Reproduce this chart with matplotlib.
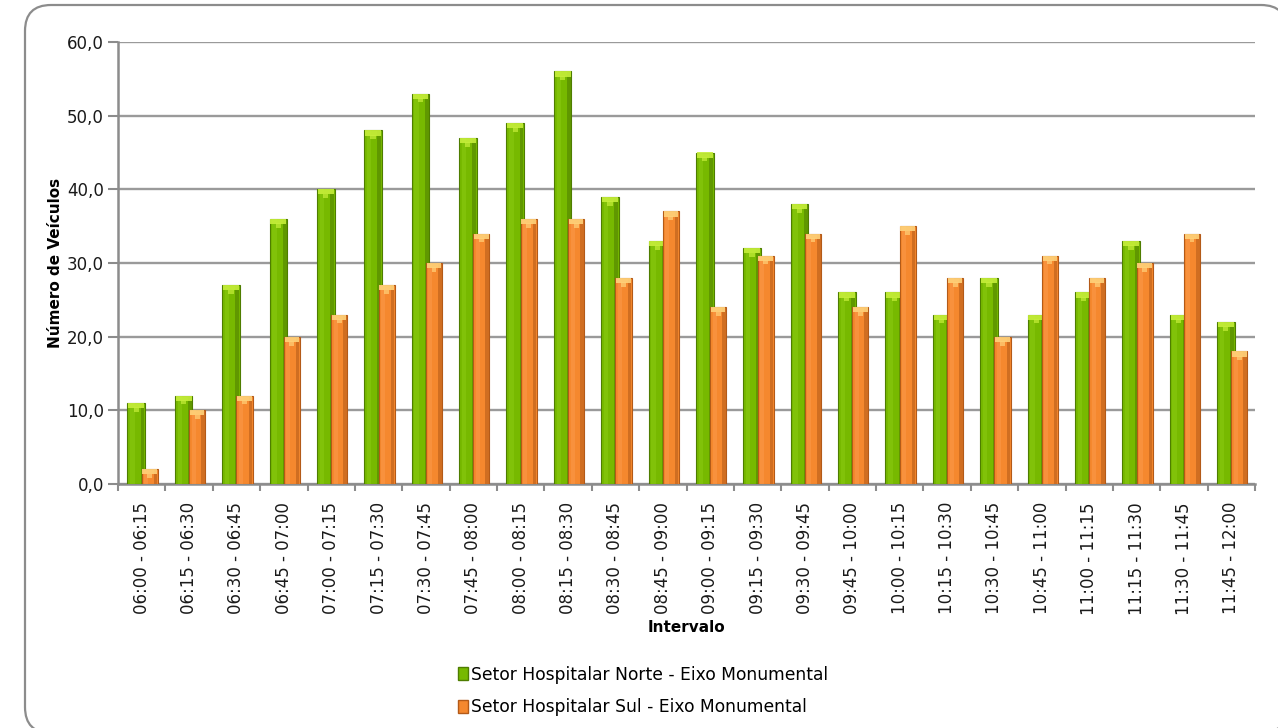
import matplotlib
matplotlib.use("Agg")
import matplotlib.pyplot as plt
from matplotlib.patches import FancyBboxPatch, Patch
import numpy as np

categories = ["06:00 - 06:15", "06:15 - 06:30", "06:30 - 06:45", "06:45 - 07:00",
              "07:00 - 07:15", "07:15 - 07:30", "07:30 - 07:45", "07:45 - 08:00",
              "08:00 - 08:15", "08:15 - 08:30", "08:30 - 08:45", "08:45 - 09:00",
              "09:00 - 09:15", "09:15 - 09:30", "09:30 - 09:45", "09:45 - 10:00",
              "10:00 - 10:15", "10:15 - 10:30", "10:30 - 10:45", "10:45 - 11:00",
              "11:00 - 11:15", "11:15 - 11:30", "11:30 - 11:45", "11:45 - 12:00"]
norte = [11, 12, 27, 36, 40, 48, 53, 47, 49, 56, 39, 33, 45, 32, 38, 26, 26, 23, 28, 23, 26, 33, 23, 22]
sul = [2, 10, 12, 20, 23, 27, 30, 34, 36, 36, 28, 37, 24, 31, 34, 24, 35, 28, 20, 31, 28, 30, 34, 18]
series_names = ["Setor Hospitalar Norte - Eixo Monumental",
                "Setor Hospitalar Sul - Eixo Monumental"]
yticks = [0, 10, 20, 30, 40, 50, 60]

plt.rcParams['font.family'] = ['DejaVu Sans']

W, H = 1278, 728
fig = plt.figure(figsize=(W / 100, H / 100), dpi=100)

# background rounded frame
bg = fig.add_axes([0, 0, 1, 1])
bg.set_xlim(0, W)
bg.set_ylim(H, 0)
bg.axis("off")
frame = FancyBboxPatch((25, 5), 1262, 728, boxstyle="round,pad=0,rounding_size=26",
                       facecolor="white", edgecolor="#8c8c8c", linewidth=1.6)
bg.add_patch(frame)

ax = fig.add_axes([118 / W, 1 - 484 / H, (1255 - 118) / W, (484 - 42) / H])
ax.set_facecolor("none")

x = np.arange(len(categories))
wg, wo = 0.37, 0.34
og, oo = -0.115, 0.17

def draw_series(vals, off, w, base, dark, light, cap, z):
    vals = np.asarray(vals, dtype=float)
    ax.bar(x + off, vals, w, color=base, edgecolor=dark, linewidth=0.8, zorder=z)
    # left lighter face
    ax.bar(x + off - w * 0.22, vals, w * 0.25, color=light, linewidth=0, zorder=z + 0.1, alpha=0.3)
    # right darker shade
    ax.bar(x + off + w * 0.36, vals, w * 0.22, color=dark, linewidth=0, zorder=z + 0.1, alpha=0.55)
    # top cap
    capv = np.minimum(vals, 0.7)
    ax.bar(x + off, capv, w * 0.9, bottom=vals - capv, color=cap, linewidth=0, zorder=z + 0.2, alpha=0.9)
    ax.bar(x + off, np.minimum(vals, 1.2) * 0.5, w * 0.3, bottom=vals - np.minimum(vals, 1.2),
           color=cap, linewidth=0, zorder=z + 0.2, alpha=0.7)

draw_series(norte, og, wg, "#77B900", "#4E7D00", "#9BD820", "#C6EE3A", 3)
draw_series(sul, oo, wo, "#F5882E", "#B35A18", "#FFA860", "#FFD27A", 4)

ax.set_xlim(-0.5, len(categories) - 0.5)
ax.set_ylim(0, 60)
ax.set_yticks(yticks)
ax.set_yticklabels([f"{v:.1f}".replace(".", ",") for v in yticks], fontsize=12, color="#1a1a1a")
ax.yaxis.grid(True, color="#9a9a9a", linewidth=1.7, zorder=0)
ax.set_axisbelow(True)

ax.set_xticks(x)
ax.set_xticklabels(categories, rotation=90, fontsize=12, color="#1a1a1a")
ax.set_xticks(np.arange(len(categories) + 1) - 0.5, minor=True)
ax.tick_params(axis="x", which="major", length=0, pad=13)
ax.tick_params(axis="x", which="minor", length=5, color="#8c8c8c", width=1.5)
ax.tick_params(axis="y", length=7, color="#8c8c8c", width=1.5, pad=3)

for s in ["top", "right"]:
    ax.spines[s].set_visible(False)
ax.spines["left"].set_color("#8c8c8c")
ax.spines["left"].set_linewidth(1.8)
ax.spines["bottom"].set_color("#8c8c8c")
ax.spines["bottom"].set_linewidth(1.8)

ax.set_ylabel("Número de Veículos", fontsize=11, fontweight="bold", labelpad=3)
ax.set_xlabel("Intervalo", fontsize=11, fontweight="bold", labelpad=4)

# legend
handles = [Patch(facecolor="#77B900", edgecolor="#4E7D00"),
           Patch(facecolor="#F5882E", edgecolor="#B35A18")]
fig.legend(handles, series_names, loc="center left", bbox_to_anchor=(458 / W, 1 - 691 / H),
           frameon=False, fontsize=12.3, handlelength=0.6, handleheight=0.8,
           handletextpad=0.15, labelspacing=0.85, ncol=1, borderaxespad=0, borderpad=0)

fig.savefig("out.png", dpi=100)
